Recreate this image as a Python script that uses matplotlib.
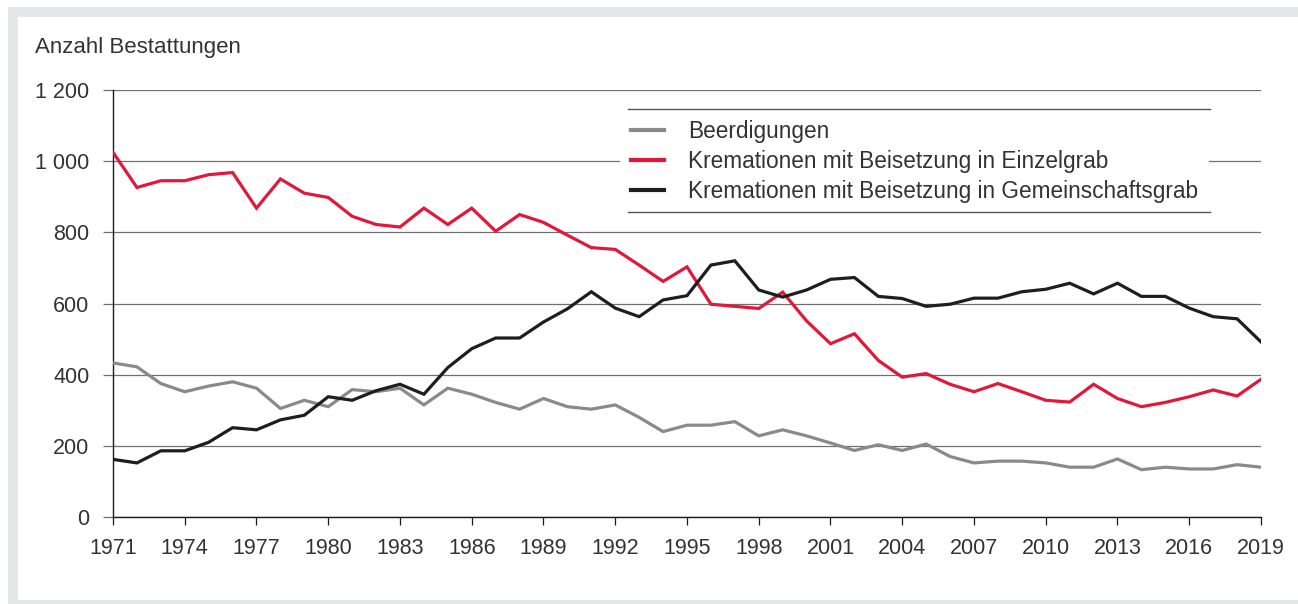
import matplotlib
matplotlib.use("Agg")
import matplotlib.pyplot as plt
from matplotlib.patches import Rectangle
from matplotlib.lines import Line2D
from matplotlib.ticker import FuncFormatter, MultipleLocator

plt.rcParams["font.family"] = ["Liberation Sans", "DejaVu Sans"]

# --- data ---
years = list(range(1971, 2020))

beerdigungen = [433, 422, 375, 352, 368, 380, 362, 305, 328, 310,
                358, 352, 362, 315, 362, 345, 322, 303, 333, 310,
                303, 315, 280, 240, 258, 258, 268, 228, 245, 228,
                208, 187, 203, 187, 205, 170, 152, 157, 157, 152,
                140, 140, 163, 133, 140, 135, 135, 147, 140]

einzelgrab = [1025, 926, 945, 945, 962, 968, 868, 950, 910, 898,
              845, 822, 815, 868, 822, 868, 803, 850, 828, 792,
              757, 752, 708, 662, 703, 598, 592, 586, 632, 551,
              487, 515, 440, 393, 403, 373, 352, 375, 352, 328,
              323, 373, 333, 310, 322, 338, 357, 340, 387]

gemeinschaftsgrab = [162, 152, 186, 186, 210, 251, 245, 273, 286, 338,
                     328, 355, 373, 345, 420, 473, 503, 503, 548, 585,
                     633, 587, 563, 610, 622, 708, 720, 638, 618, 638,
                     668, 673, 620, 614, 592, 598, 615, 615, 633, 640,
                     657, 627, 657, 620, 620, 587, 563, 557, 492]

labels = ["Beerdigungen",
          "Kremationen mit Beisetzung in Einzelgrab",
          "Kremationen mit Beisetzung in Gemeinschaftsgrab"]
colors = ["#8a8a8c", "#e2183b", "#1e1e1e"]

W, H = 1298, 604
fig = plt.figure(figsize=(W / 100, H / 100), dpi=100)

# grey frame around the panel (open on the right)
fig.patches.append(Rectangle((8 / W, 0), 2, 1 - 7 / H, transform=fig.transFigure,
                             facecolor="#e6e7e8", edgecolor="none", zorder=-2))
fig.patches.append(Rectangle((18 / W, 4 / H), 2, 1 - 21 / H, transform=fig.transFigure,
                             facecolor="white", edgecolor="none", zorder=-1))

ax = fig.add_axes([113 / W, 1 - 517 / H, (1261 - 113) / W, (517 - 90) / H])
ax.set_facecolor("none")

for vals, lab, col in zip([beerdigungen, einzelgrab, gemeinschaftsgrab], labels, colors):
    ax.plot(years, vals, color=col, lw=2.3, label=lab, solid_joinstyle="miter", zorder=3)

ax.set_xlim(1971, 2019)
ax.set_ylim(0, 1200)
ax.xaxis.set_major_locator(MultipleLocator(3))
ax.yaxis.set_major_locator(MultipleLocator(200))
ax.yaxis.set_major_formatter(FuncFormatter(lambda v, p: f"{int(v):,}".replace(",", " ")))

ax.grid(axis="y", color="#707070", lw=0.9, zorder=1)
for s in ["top", "right"]:
    ax.spines[s].set_visible(False)
for s in ["left", "bottom"]:
    ax.spines[s].set_color("#1a1a1a")
    ax.spines[s].set_linewidth(1.0)

ax.tick_params(axis="x", direction="out", length=6, width=0.9, color="#1a1a1a",
               labelsize=15.5, labelcolor="#333333", pad=9)
ax.tick_params(axis="y", direction="out", length=7, width=0.9, color="#707070",
               labelsize=15.5, labelcolor="#333333", pad=10)

fig.text(35 / W, 1 - 48 / H, "Anzahl Bestattungen", fontsize=16, color="#333333",
         va="center", ha="left")

leg = ax.legend(loc="upper left", bbox_to_anchor=(620 / W, 1 - 109 / H),
                bbox_transform=fig.transFigure, fontsize=16.3, frameon=True,
                fancybox=False, facecolor="white", edgecolor="none", framealpha=1,
                handlelength=1.45, handletextpad=1.05, labelspacing=0.3,
                borderpad=0.5, borderaxespad=0)
for t in leg.get_texts():
    t.set_color("#333333")
for h in leg.legend_handles:
    h.set_linewidth(3)

# rules above and below the legend
for yy in (109, 212):
    fig.add_artist(Line2D([628 / W, 1210 / W], [1 - yy / H, 1 - yy / H],
                          transform=fig.transFigure, color="#555555", lw=1.0))

fig.savefig("out.png", dpi=100, facecolor="white")
